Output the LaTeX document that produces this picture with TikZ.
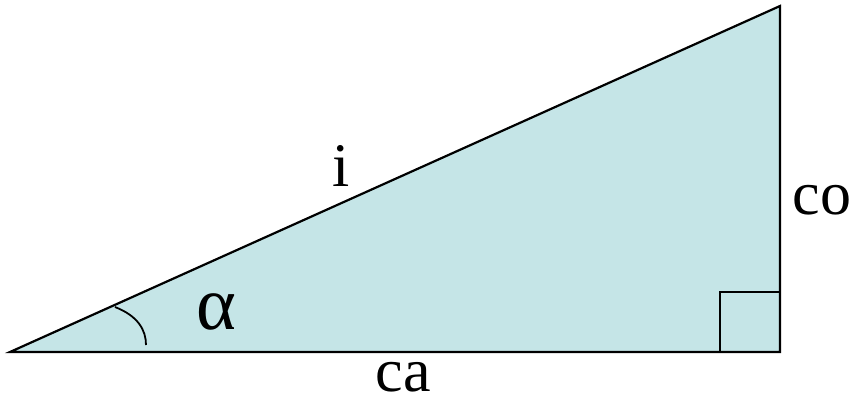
\documentclass[tikz,border=0pt]{standalone}
\usepackage{fontspec}
\setmainfont{Liberation Serif}
\usetikzlibrary{positioning,calc}
\definecolor{trifill}{HTML}{C5E5E7}

\begin{document}
\begin{tikzpicture}[
    x=1pt, y=-1pt,
    font=\fontsize{62}{66}\selectfont,
    every node/.style={inner sep=0pt, anchor=center},
    side/.style={line width=2.2pt, line join=miter}
  ]
    \useasboundingbox (0,0) rectangle (854,401);
    \coordinate (a) at (10,352);
    \coordinate (b) at (780,352);
    \coordinate (c) at (780,6);
    \fill[trifill] (a) -- (b) -- (c) -- cycle;
    \draw[side] (a) -- (b) -- (c) -- cycle;
    % right angle and angle mark
    \coordinate (sq) at (720,292);
    \draw[line width=1.8pt] (b -| sq) |- (sq -| b);
    \coordinate (arcs) at (115,307);
    \coordinate (arce) at (146,345);
    \draw[line width=1.8pt] (arcs) .. controls (138,316) and (146,330) .. (arce);
    \node (hyp) at (341,166) {i};
    \node (opp) at (822,200) {co};
    \node (adj) at (403,377) {ca};
    \node[font=\fontsize{76}{80}\selectfont] (ang) at (216,312) {α};
\end{tikzpicture}
\end{document}
